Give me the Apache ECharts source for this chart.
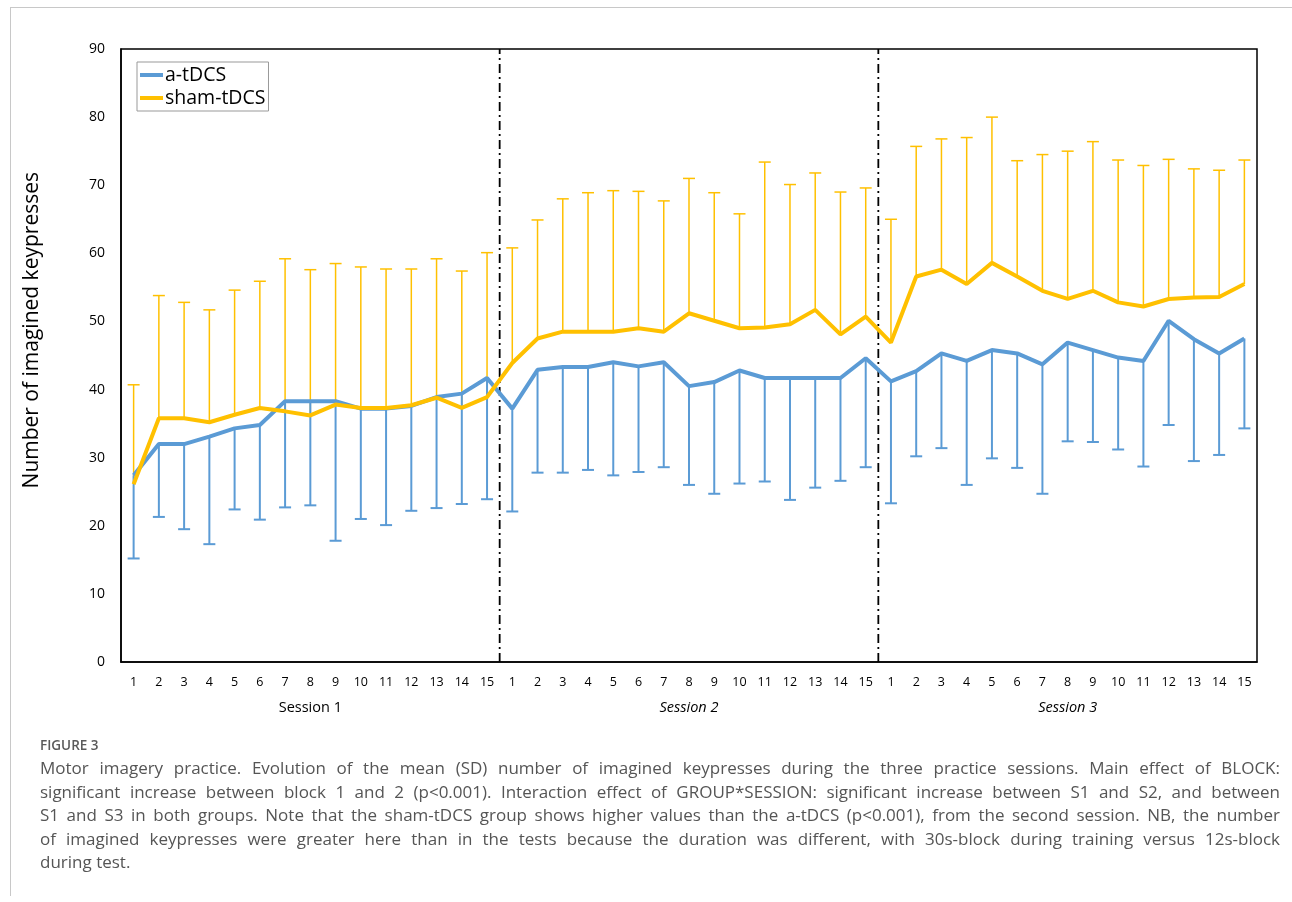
<!DOCTYPE html>
<html>
<head>
<meta charset="utf-8">
<script src="https://cdn.jsdelivr.net/npm/echarts@6/dist/echarts.min.js"></script>
<style>
  html, body { margin: 0; padding: 0; background: #fff; }
  #page { position: relative; width: 1292px; height: 902px; overflow: hidden; }
  #frame { position: absolute; left: 10px; top: 7px; width: 1300px; height: 888px;
           border-top: 1px solid #c8c8c8; border-left: 1px solid #c8c8c8; }
  #chart { position: absolute; left: 0; top: 0; width: 1292px; height: 902px; }
  #caption { position: absolute; left: 40px; top: 736px; width: 1240px;
             font-family: "Open Sans", "Noto Sans", sans-serif; color: #555; }
  #caption .fig { font-size: 13.5px; font-weight: 600; margin-bottom: 2px; color: #5a5a5a; }
  #caption .ln { font-size: 17px; line-height: 23.5px; text-align: justify; text-align-last: justify; white-space: nowrap; }
  #caption .ln.last { text-align-last: left; }
</style>
</head>
<body>
<div id="page">
  <div id="frame"></div>
  <div id="chart"></div>
  <div id="caption">
    <div class="fig">FIGURE 3</div>
    <div class="ln">Motor imagery practice. Evolution of the mean (SD) number of imagined keypresses during the three practice sessions. Main effect of BLOCK:</div>
    <div class="ln">significant increase between block 1 and 2 (p&lt;0.001). Interaction effect of GROUP*SESSION: significant increase between S1 and S2, and between</div>
    <div class="ln">S1 and S3 in both groups. Note that the sham-tDCS group shows higher values than the a-tDCS (p&lt;0.001), from the second session. NB, the number</div>
    <div class="ln">of imagined keypresses were greater here than in the tests because the duration was different, with 30s-block during training versus 12s-block</div>
    <div class="ln last">during test.</div>
  </div>
</div>
<script>
// blocks 1-15 in each of the three sessions
var blocks = [];
for (var s = 0; s < 3; s++) {
    for (var b = 1; b <= 15; b++) blocks.push(String(b));
}
var sessions = ['Session 1', 'Session 2', 'Session 3'];
var sessionBreaks = [15, 30];

// a-tDCS: mean and lower end of the SD bar
var aMean = [27.4, 32.0, 32.0, 33.1, 34.3, 34.8, 38.3, 38.3, 38.3, 37.2, 37.2, 37.6, 38.9, 39.4, 41.7,
             37.2, 42.9, 43.3, 43.3, 44.0, 43.4, 44.0, 40.5, 41.1, 42.8, 41.7, 41.7, 41.7, 41.7, 44.6,
             41.2, 42.7, 45.3, 44.2, 45.8, 45.3, 43.7, 46.9, 45.8, 44.7, 44.2, 50.1, 47.4, 45.3, 47.5];
var aLow = [15.2, 21.3, 19.5, 17.3, 22.4, 20.9, 22.7, 23.0, 17.8, 21.0, 20.1, 22.2, 22.6, 23.2, 23.9,
            22.1, 27.8, 27.8, 28.2, 27.4, 27.9, 28.6, 26.0, 24.7, 26.2, 26.5, 23.8, 25.6, 26.6, 28.6,
            23.3, 30.2, 31.4, 26.0, 29.9, 28.5, 24.7, 32.4, 32.3, 31.2, 28.7, 34.8, 29.5, 30.4, 34.3];

// sham-tDCS: mean and upper end of the SD bar
var shamMean = [26.1, 35.8, 35.8, 35.2, 36.3, 37.3, 36.8, 36.2, 37.8, 37.3, 37.3, 37.7, 38.8, 37.3, 38.9,
                43.9, 47.5, 48.5, 48.5, 48.5, 49.0, 48.5, 51.2, 50.1, 49.0, 49.1, 49.6, 51.7, 48.1, 50.7,
                46.9, 56.6, 57.6, 55.5, 58.6, 56.6, 54.5, 53.3, 54.5, 52.8, 52.2, 53.3, 53.5, 53.6, 55.5];
var shamHigh = [40.7, 53.8, 52.8, 51.7, 54.6, 55.9, 59.2, 57.6, 58.5, 58.0, 57.7, 57.7, 59.2, 57.4, 60.1,
                60.8, 64.9, 68.0, 68.9, 69.2, 69.1, 67.7, 71.0, 68.9, 65.8, 73.4, 70.1, 71.8, 69.0, 69.6,
                65.0, 75.7, 76.8, 77.0, 80.0, 73.6, 74.5, 75.0, 76.4, 73.7, 72.9, 73.8, 72.4, 72.2, 73.7];

var BLUE = '#5B9BD5';
var GOLD = '#FFC000';
var FONT = '"Open Sans", "Noto Sans", sans-serif';

function barData(mean, end) {
    return mean.map(function (m, i) { return [i, m, end[i]]; });
}

function errorBar(color, width) {
    return function (params, api) {
        var p0 = api.coord([api.value(0), api.value(1)]);
        var p1 = api.coord([api.value(0), api.value(2)]);
        var half = 6;
        var st = { stroke: color, lineWidth: width };
        return {
            type: 'group',
            children: [
                { type: 'line', shape: { x1: p0[0], y1: p0[1], x2: p1[0], y2: p1[1] }, style: st },
                { type: 'line', shape: { x1: p1[0] - half, y1: p1[1], x2: p1[0] + half, y2: p1[1] }, style: st }
            ]
        };
    };
}

var chart = echarts.init(document.getElementById('chart'));

var option = {
    backgroundColor: 'transparent',
    animation: false,
    textStyle: { fontFamily: FONT },
    grid: {
        left: 121, right: 35, top: 49, bottom: 240,
        show: true, borderColor: '#000', borderWidth: 1.5
    },
    legend: {
        left: 137, top: 62,
        orient: 'vertical',
        data: ['a-tDCS', 'sham-tDCS'],
        icon: 'rect',
        itemWidth: 23, itemHeight: 4,
        itemGap: 3,
        padding: [3, 3, 3, 3],
        borderColor: '#999', borderWidth: 1,
        textStyle: { fontSize: 19.5, color: '#000', fontFamily: FONT, padding: [0, 0, 0, -3] }
    },
    xAxis: [
        {
            type: 'category',
            data: blocks,
            axisLine: { lineStyle: { color: '#000', width: 1.5 } },
            axisTick: { show: false },
            axisLabel: { interval: 0, color: '#000', fontSize: 12.5, margin: 14 }
        },
        {
            type: 'category',
            data: sessions,
            position: 'bottom',
            offset: 24,
            axisLine: { show: false },
            axisTick: { show: false },
            axisLabel: {
                interval: 0, margin: 14, color: '#000',
                formatter: function (v, i) { return i === 0 ? '{n|' + v + '}' : '{i|' + v + '}'; },
                rich: {
                    n: { fontSize: 14.5, color: '#000' },
                    i: { fontSize: 14.5, color: '#000', fontStyle: 'italic' }
                }
            }
        },
        {
            type: 'value', min: 0, max: 45, show: false
        }
    ],
    yAxis: {
        type: 'value',
        min: 0, max: 90, interval: 10,
        axisLine: { show: true, lineStyle: { color: '#000', width: 1.5 } },
        axisTick: { show: false },
        splitLine: { show: false },
        axisLabel: { color: '#000', fontSize: 14, margin: 16 }
    },
    graphic: [
        {
            type: 'text',
            left: 22, top: 172,
            rotation: Math.PI / 2,
            style: {
                text: 'Number of imagined keypresses',
                font: '21px "Open Sans", "Noto Sans", sans-serif',
                fill: '#000'
            }
        }
    ],
    series: [
        {
            name: 'dividers',
            type: 'custom',
            xAxisIndex: 2,
            data: sessionBreaks.map(function (x) { return [x]; }),
            renderItem: function (params, api) {
                var a = api.coord([api.value(0), 0]);
                var b = api.coord([api.value(0), 90]);
                return {
                    type: 'line',
                    shape: { x1: a[0], y1: a[1], x2: b[0], y2: b[1] },
                    style: { stroke: '#000', lineWidth: 1.8, lineDash: [9, 4, 2, 4] }
                };
            },
            z: 1
        },
        {
            name: 'sham-sd',
            type: 'custom',
            data: barData(shamMean, shamHigh),
            renderItem: errorBar(GOLD, 1.5),
            z: 2
        },
        {
            name: 'a-sd',
            type: 'custom',
            data: barData(aMean, aLow),
            renderItem: errorBar(BLUE, 2),
            z: 2
        },
        {
            name: 'a-tDCS',
            type: 'line',
            data: aMean,
            symbol: 'none',
            color: BLUE,
            lineStyle: { color: BLUE, width: 4 },
            z: 3
        },
        {
            name: 'sham-tDCS',
            type: 'line',
            data: shamMean,
            symbol: 'none',
            color: GOLD,
            lineStyle: { color: GOLD, width: 4 },
            z: 4
        }
    ]
};

chart.setOption(option);
</script>
</body>
</html>
